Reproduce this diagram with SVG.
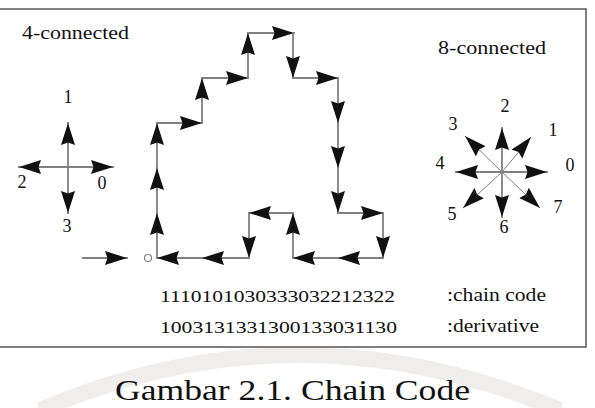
<svg xmlns="http://www.w3.org/2000/svg" width="595" height="408" viewBox="0 0 595 408">
<style>
text{font-family:"Liberation Serif","Times New Roman",serif;fill:#111;font-size:18px}
text.code{font-size:17px}
text.cap{font-size:30px}
.mid{text-anchor:middle}
.ln{stroke:#808080;stroke-width:1.8;fill:none;stroke-linecap:square}
.thin{stroke:#808080;stroke-width:1;fill:none}
.a{marker-end:url(#ah)}
.frame{stroke:#555;stroke-width:1.5;fill:none}
</style>
<defs>
<marker id="ah" markerUnits="userSpaceOnUse" markerWidth="24" markerHeight="16" refX="22" refY="7" orient="auto">
<path d="M0,0 L22,7 L0,14 L2.5,7 Z" fill="#111"/>
</marker>
</defs>
<rect width="595" height="408" fill="#fff"/>
<g id="watermark" opacity="0.5">
<path d="M40,410 Q297,300 560,410" stroke="#e2dcdc" stroke-width="16" fill="none"/>
</g>
<g id="frame">
<polyline class="frame" points="0,9 586,9 586,347 0,347"/>
</g>
<g id="title-4">
<text x="22" y="39" textLength="107" lengthAdjust="spacingAndGlyphs">4-connected</text>
</g>
<g id="title-8">
<text x="438" y="54" textLength="108" lengthAdjust="spacingAndGlyphs">8-connected</text>
</g>
<g id="compass-4">
<line class="ln a" x1="68" y1="167" x2="68" y2="123"/>
<line class="ln a" x1="68" y1="167" x2="68" y2="213"/>
<line class="ln a" x1="68" y1="167" x2="19" y2="167"/>
<line class="ln a" x1="68" y1="167" x2="113" y2="167"/>
<text class="mid" x="68" y="103">1</text>
<text class="mid" x="22" y="188">2</text>
<text class="mid" x="102" y="189">0</text>
<text class="mid" x="67" y="232">3</text>
</g>
<g id="compass-8">
<line class="ln a" x1="502" y1="172" x2="502" y2="128"/>
<line class="ln a" x1="502" y1="172" x2="502" y2="217"/>
<line class="ln a" x1="502" y1="172" x2="456" y2="172"/>
<line class="ln a" x1="502" y1="172" x2="547" y2="172"/>
<line class="thin a" x1="502" y1="172" x2="531" y2="137"/>
<line class="thin a" x1="502" y1="172" x2="465" y2="136"/>
<line class="thin a" x1="502" y1="172" x2="540" y2="208"/>
<line class="thin a" x1="502" y1="172" x2="463" y2="208"/>
<text class="mid" x="505" y="112">2</text>
<text class="mid" x="453" y="130">3</text>
<text class="mid" x="553" y="136">1</text>
<text class="mid" x="440" y="169">4</text>
<text class="mid" x="570" y="171">0</text>
<text class="mid" x="452" y="220">5</text>
<text class="mid" x="504" y="233">6</text>
<text class="mid" x="558" y="213">7</text>
</g>
<g id="start">
<circle cx="148" cy="258" r="3.5" fill="#fff" stroke="#808080" stroke-width="1.2"/>
</g>
<g id="connectors">
<line class="ln a" x1="83" y1="258" x2="127" y2="258"/>
<line class="ln a" x1="157" y1="258" x2="157" y2="213"/>
<line class="ln a" x1="157" y1="213" x2="157" y2="168"/>
<line class="ln a" x1="157" y1="168" x2="157" y2="123"/>
<line class="ln a" x1="157" y1="123" x2="202" y2="123"/>
<line class="ln a" x1="202" y1="123" x2="202" y2="78"/>
<line class="ln a" x1="202" y1="78" x2="248" y2="78"/>
<line class="ln a" x1="248" y1="78" x2="248" y2="33"/>
<line class="ln a" x1="248" y1="33" x2="294" y2="33"/>
<line class="ln a" x1="293" y1="33" x2="293" y2="78"/>
<line class="ln a" x1="293" y1="78" x2="338" y2="78"/>
<line class="ln a" x1="338" y1="78" x2="338" y2="123"/>
<line class="ln a" x1="338" y1="123" x2="338" y2="168"/>
<line class="ln a" x1="338" y1="168" x2="338" y2="213"/>
<line class="ln a" x1="338" y1="213" x2="383" y2="213"/>
<line class="ln a" x1="383" y1="213" x2="383" y2="258"/>
<line class="ln a" x1="383" y1="258" x2="338" y2="258"/>
<line class="ln a" x1="338" y1="258" x2="293" y2="258"/>
<line class="ln a" x1="293" y1="258" x2="293" y2="213"/>
<line class="ln a" x1="293" y1="213" x2="249" y2="213"/>
<line class="ln a" x1="249" y1="213" x2="249" y2="258"/>
<line class="ln a" x1="249" y1="258" x2="202" y2="258"/>
<line class="ln a" x1="202" y1="258" x2="157" y2="258"/>
</g>
<g id="codes">
<text class="code" x="160" y="302" textLength="235" lengthAdjust="spacingAndGlyphs">1110101030333032212322</text>
<text class="code" x="160" y="333" textLength="237" lengthAdjust="spacingAndGlyphs">1003131331300133031130</text>
<text x="447" y="301" textLength="99" lengthAdjust="spacingAndGlyphs">:chain code</text>
<text x="447" y="332" textLength="92" lengthAdjust="spacingAndGlyphs">:derivative</text>
</g>
<g id="caption">
<text class="cap" x="115" y="400" textLength="355" lengthAdjust="spacingAndGlyphs">Gambar 2.1. Chain Code</text>
</g>
</svg>
